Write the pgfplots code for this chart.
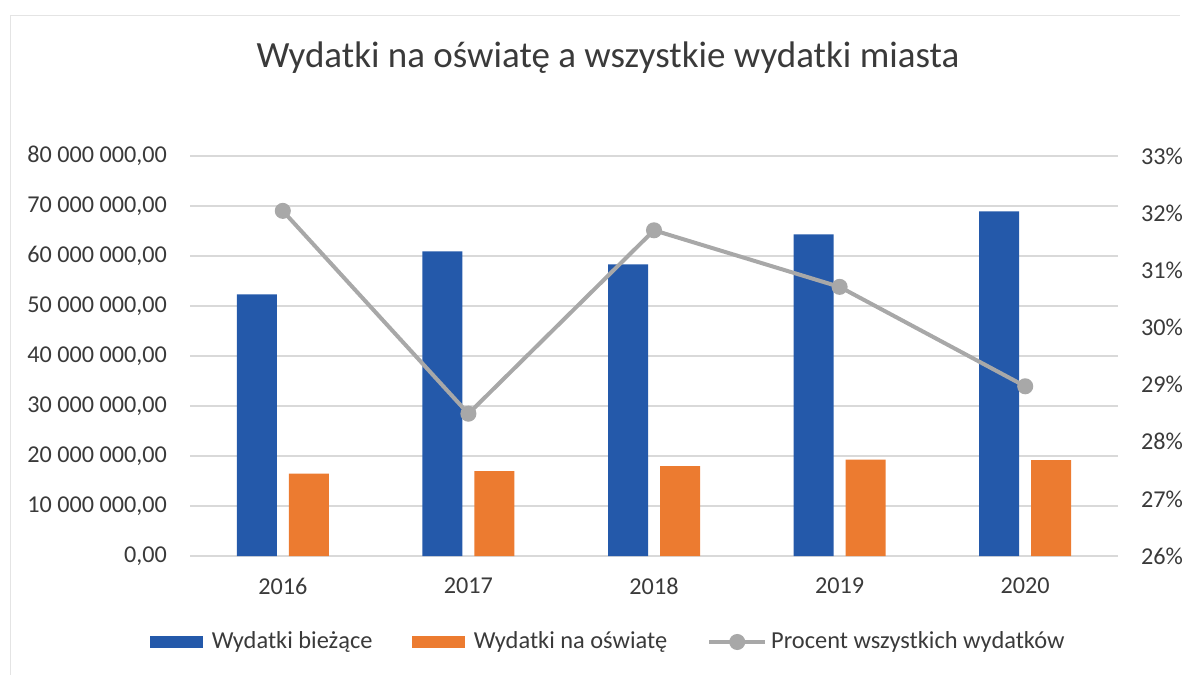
\documentclass[border=0pt]{standalone}
\usepackage{fontspec}
\setmainfont{Carlito}
\usepackage{pgfplots}
\pgfplotsset{compat=1.18}
\definecolor{cblue}{HTML}{2459AA}
\definecolor{corange}{HTML}{EC7B30}
\definecolor{cgray}{HTML}{A8A8A8}
\definecolor{cgrid}{HTML}{D9D9D9}
\definecolor{ctext}{HTML}{3A3A3A}
\begin{document}
\begin{tikzpicture}
\useasboundingbox (0,0) rectangle (593.5pt,337.5pt);
\draw[cgrid!70, line width=0.4pt] (5pt,0) -- (5pt,330pt) -- (590pt,330pt);
\node[font=\fontsize{18.5}{22}\selectfont, text=ctext] at (304pt,308.5pt) {Wydatki na oświatę a wszystkie wydatki miasta};
\begin{axis}[
  at={(95pt,59.5pt)}, anchor=south west,
  scale only axis, width=464pt, height=200pt,
  xmin=-0.5, xmax=4.5, ymin=0, ymax=80000000,
  xtick={0,1,2,3,4}, xticklabels={2016,2017,2018,2019,2020},
  ytick={0,10000000,20000000,30000000,40000000,50000000,60000000,70000000,80000000},
  yticklabels={{0,00},{10 000 000,00},{20 000 000,00},{30 000 000,00},{40 000 000,00},{50 000 000,00},{60 000 000,00},{70 000 000,00},{80 000 000,00}},
  scaled y ticks=false,
  ymajorgrids, grid style={cgrid, line width=0.6pt},
  axis line style={draw=none}, major tick length=0pt,
  ybar=6pt, bar width=20pt,
  tick label style={font=\fontsize{12.1}{14}\selectfont, text=ctext},
  yticklabel style={xshift=-8pt},
  xticklabel style={yshift=-7.5pt},
  clip=false,
]
\addplot[fill=cblue, draw=none] coordinates {(0,52300000) (1,60900000) (2,58300000) (3,64300000) (4,68900000)};
\addplot[fill=corange, draw=none] coordinates {(0,16500000) (1,17000000) (2,18000000) (3,19300000) (4,19200000)};
\end{axis}
\begin{axis}[
  at={(95pt,59.5pt)}, anchor=south west,
  scale only axis, width=464pt, height=200pt,
  xmin=-0.5, xmax=4.5, ymin=26, ymax=33,
  axis y line*=right, axis x line=none,
  xtick=\empty,
  ytick={26,27,28,29,30,31,32,33},
  yticklabels={26\%,27\%,28\%,29\%,30\%,31\%,32\%,33\%},
  axis line style={draw=none}, major tick length=0pt,
  tick label style={font=\fontsize{12.1}{14}\selectfont, text=ctext},
  yticklabel style={xshift=8pt},
  clip=false,
  legend columns=3,
  legend style={at={(0.452,-0.215)}, anchor=center, draw=none, fill=none,
    font=\fontsize{12.2}{14}\selectfont, text=ctext,
    /tikz/every even column/.append style={column sep=18pt}},
]
\addlegendimage{legend image code/.code={\fill[cblue] (0pt,-2.75pt) rectangle (26pt,2.75pt); \path[draw=none] (0pt,0pt) -- (28.5pt,0pt);}}
\addlegendentry{Wydatki bieżące}
\addlegendimage{legend image code/.code={\fill[corange] (0pt,-2.75pt) rectangle (26pt,2.75pt); \path[draw=none] (0pt,0pt) -- (28.5pt,0pt);}}
\addlegendentry{Wydatki na oświatę}
\addplot[cgray, line width=2pt, mark=*, mark size=3pt, mark options={fill=cgray, draw=cgray},
  legend image code/.code={\draw[cgray, line width=2pt] (0pt,0pt) -- (28pt,0pt); \fill[cgray] (14pt,0pt) circle (3pt); \path[draw=none] (0pt,0pt) -- (29pt,0pt);}]
  coordinates {(0,32.04) (1,28.49) (2,31.70) (3,30.71) (4,28.97)};
\addlegendentry{Procent wszystkich wydatków}
\end{axis}
\end{tikzpicture}
\end{document}
